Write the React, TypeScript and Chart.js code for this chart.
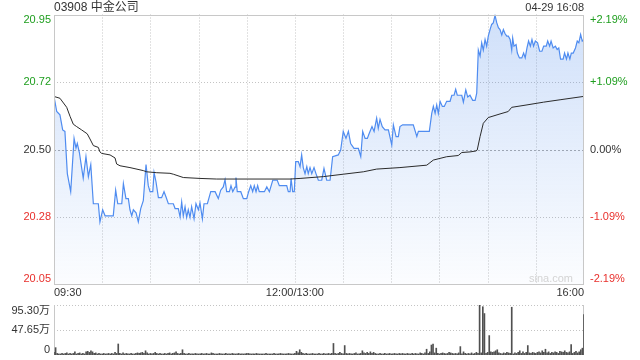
import React, { useEffect, useRef } from 'react';
import { Chart, registerables } from 'chart.js';

Chart.register(...registerables);

const title = '03908 中金公司';
const stamp = '04-29 16:08';
const watermark = 'sina.com';
const prevClose = 20.5;
const priceTicks = [20.052, 20.276, 20.5, 20.724, 20.948];
const timeTicks = [0, 30, 60, 90, 120, 150, 180, 210, 240, 270, 300, 330];
const timeLabels = ['09:30', '12:00/13:00', '16:00'];
const timeLabelMinutes = [0, 150, 330];
const volumeTicks = [0, 47.65, 95.3];
const volumeTickLabels = ['0', '47.65万', '95.30万'];

const priceMinutes = [
  0, 1.7, 3.7, 5.4, 6.8, 8.3, 10.4, 12.5, 13.7, 14.5, 15.8, 17.2, 18.2, 19.9, 21.4, 22.9, 24.5, 27.6, 28.6, 30.3,
  31.8, 36.9, 38.4, 39.7, 42.2, 43.2, 44.8, 46.3, 47.3, 48.4, 49.4, 51.1, 52.5, 54, 55.6, 57.3, 58.7, 59.8, 61.5, 62.3,
  63.5, 65, 67, 68.5, 69.7, 71.2, 74.3, 75.4, 77.4, 78.5, 79.5, 80.5, 81.6, 82.6, 83.6, 84.7, 85.7, 87.2, 88.4, 89.9,
  90.9, 92.4, 93.4, 95.5, 97.6, 100.3, 102.3, 103.8, 105.4, 106.5, 107.5, 109.2, 110.2, 111.3, 112.7, 113.3, 114.1, 116.3, 117.9, 120,
  121.2, 122.5, 123.7, 124.7, 125.8, 126.8, 127.8, 131, 132.5, 134.1, 136.2, 139, 140.3, 144.9, 145.9, 147, 147.6, 148.6, 149.6, 150.5,
  152.1, 153.2, 154.2, 155.2, 156.3, 157.4, 158.3, 159.4, 160.5, 161.9, 163.1, 164.6, 166.7, 168.1, 169.8, 171.9, 173.5, 177, 178.5, 180.1,
  181.8, 183.3, 184.7, 186.8, 189.5, 191, 192.2, 193.7, 195.1, 196.3, 198, 199.3, 200.9, 201.9, 203, 204.4, 206.1, 208.2, 210.3, 211.3,
  213, 214.4, 215.4, 217.1, 223.7, 225.9, 226.9, 233.7, 235.2, 236.2, 237.3, 238.3, 239.3, 240.4, 241.8, 243, 244.5, 246.6, 247.7, 249.1,
  250.1, 251.1, 253.9, 254.9, 256.4, 257.6, 259, 260.7, 262.2, 263.2, 264.2, 265.3, 266.3, 267.3, 268.4, 269.4, 270.4, 271.5, 272.5, 273.5,
  274.6, 275.7, 276.7, 277.7, 278.8, 279.8, 280.8, 281.9, 282.9, 284, 285, 285.6, 286.4, 287.7, 288.5, 289.8, 291.3, 292.4, 293.4, 294.5,
  295.5, 296.6, 297.6, 298.6, 299.7, 301.1, 302.4, 303.8, 304.9, 306.5, 307.4, 308.6, 309.5, 310.8, 312.2, 313.3, 314.3, 315.4, 317, 317.9,
  319.1, 320, 321.2, 322.1, 323.3, 324.7, 325.8, 326.8, 327.9, 328.9, 329.9,
];

const prices = [
  20.676, 20.626, 20.615, 20.565, 20.56, 20.42, 20.36, 20.537, 20.505, 20.52, 20.49, 20.44, 20.405, 20.476, 20.41, 20.45, 20.32, 20.32, 20.26, 20.3,
  20.28, 20.28, 20.365, 20.32, 20.32, 20.387, 20.337, 20.337, 20.3, 20.28, 20.3, 20.29, 20.26, 20.304, 20.33, 20.45, 20.38, 20.36, 20.36, 20.424,
  20.393, 20.34, 20.34, 20.36, 20.343, 20.32, 20.32, 20.304, 20.304, 20.276, 20.326, 20.28, 20.31, 20.275, 20.3, 20.275, 20.31, 20.27, 20.32, 20.3,
  20.323, 20.27, 20.32, 20.32, 20.36, 20.36, 20.337, 20.365, 20.376, 20.4, 20.36, 20.36, 20.38, 20.36, 20.375, 20.407, 20.36, 20.36, 20.337, 20.337,
  20.36, 20.38, 20.36, 20.38, 20.36, 20.38, 20.36, 20.36, 20.376, 20.36, 20.398, 20.398, 20.38, 20.38, 20.36, 20.36, 20.404, 20.36, 20.36, 20.46,
  20.46, 20.443, 20.482, 20.44, 20.42, 20.443, 20.42, 20.44, 20.42, 20.44, 20.42, 20.398, 20.398, 20.437, 20.398, 20.398, 20.476, 20.482, 20.498, 20.56,
  20.537, 20.56, 20.52, 20.504, 20.504, 20.476, 20.56, 20.537, 20.537, 20.554, 20.576, 20.56, 20.604, 20.57, 20.6, 20.576, 20.565, 20.565, 20.515, 20.582,
  20.543, 20.543, 20.576, 20.582, 20.582, 20.543, 20.56, 20.56, 20.62, 20.643, 20.62, 20.648, 20.62, 20.66, 20.643, 20.643, 20.66, 20.66, 20.68, 20.68,
  20.7, 20.68, 20.68, 20.657, 20.698, 20.674, 20.68, 20.663, 20.663, 20.687, 20.83, 20.81, 20.854, 20.83, 20.865, 20.843, 20.876, 20.898, 20.915, 20.92,
  20.945, 20.92, 20.904, 20.898, 20.88, 20.898, 20.885, 20.876, 20.876, 20.865, 20.83, 20.87, 20.843, 20.848, 20.82, 20.804, 20.804, 20.82, 20.804, 20.837,
  20.86, 20.843, 20.865, 20.843, 20.86, 20.854, 20.826, 20.826, 20.843, 20.843, 20.86, 20.843, 20.86, 20.837, 20.843, 20.832, 20.837, 20.8, 20.8, 20.82,
  20.8, 20.82, 20.8, 20.82, 20.82, 20.837, 20.86, 20.854, 20.882, 20.86, 20.865,
];

const avgMinutes = [
  0, 3.7, 7.9, 10, 12, 14.1, 17.2, 20.7, 22.4, 24.5, 27.6, 28.6, 29.7, 34.9, 38, 39, 41.1, 47.3, 55.6, 57.7,
  64, 72.2, 74.3, 80.5, 90.9, 101.3, 147, 153.2, 167.7, 180.1, 192.6, 200.9, 215.4, 232.1, 236.2, 244.5, 251.7, 253.9, 259, 262.7,
  263.5, 265.3, 267.3, 270.4, 277.7, 282.8, 285, 294.5, 304.7, 315.1, 329.6,
];

const avgPrices = [
  20.676, 20.67, 20.64, 20.61, 20.584, 20.576, 20.565, 20.552, 20.535, 20.513, 20.507, 20.492, 20.487, 20.482, 20.472, 20.452, 20.446, 20.44, 20.43, 20.426,
  20.423, 20.421, 20.418, 20.407, 20.404, 20.402, 20.402, 20.404, 20.41, 20.418, 20.426, 20.435, 20.44, 20.448, 20.465, 20.476, 20.48, 20.49, 20.492, 20.495,
  20.498, 20.543, 20.587, 20.606, 20.618, 20.626, 20.64, 20.648, 20.657, 20.665, 20.676,
];

// volume per minute, in 万 shares (minute 0 = 09:30 ... minute 330 = 16:00 close)
const volumes = [
  5, 14, 3, 2, 2, 3, 2, 3, 4, 2,
  3, 2, 3, 6, 2, 3, 4, 2, 3, 2,
  6, 7, 5, 8, 6, 3, 4, 2, 3, 2,
  2, 3, 2, 2, 3, 2, 3, 2, 5, 3,
  21, 3, 2, 4, 2, 3, 2, 2, 3, 2,
  2, 3, 4, 3, 4, 5, 3, 8, 4, 2,
  3, 2, 3, 5, 3, 2, 3, 2, 2, 3,
  2, 3, 4, 2, 3, 4, 6, 3, 2, 3,
  10, 3, 2, 2, 3, 2, 2, 2, 3, 2,
  2, 2, 3, 2, 2, 3, 2, 2, 4, 3,
  2, 2, 2, 3, 2, 2, 2, 3, 2, 2,
  2, 3, 2, 2, 2, 3, 2, 2, 2, 2,
  3, 3, 2, 2, 2, 2, 3, 2, 2, 2,
  2, 2, 3, 2, 2, 2, 2, 3, 2, 2,
  2, 3, 2, 2, 2, 2, 3, 2, 2, 2,
  3, 7, 4, 10, 5, 3, 2, 3, 2, 2,
  2, 3, 2, 2, 2, 3, 2, 2, 3, 2,
  2, 3, 2, 3, 22, 3, 2, 3, 5, 3,
  2, 18, 3, 2, 3, 2, 2, 3, 4, 2,
  2, 3, 8, 4, 3, 5, 3, 6, 3, 5,
  3, 2, 2, 3, 2, 2, 3, 2, 2, 3,
  2, 2, 3, 2, 2, 3, 2, 3, 2, 2,
  3, 2, 2, 3, 2, 3, 2, 2, 4, 3,
  2, 4, 11, 3, 6, 19, 21, 4, 13, 3,
  2, 3, 4, 3, 2, 3, 5, 4, 3, 2,
  3, 2, 4, 16, 2, 6, 3, 2, 3, 2,
  4, 2, 3, 5, 3, 96, 4, 92, 79, 3,
  5, 37, 6, 5, 6, 8, 10, 4, 3, 2,
  4, 3, 5, 4, 3, 91, 2, 4, 3, 5,
  8, 3, 6, 3, 5, 18, 4, 3, 5, 4,
  3, 5, 6, 4, 8, 5, 11, 4, 6, 3,
  5, 4, 6, 5, 3, 7, 6, 5, 8, 5,
  4, 6, 20, 3, 5, 7, 4, 6, 10, 13,
  77,
];

const GREEN = '#1e9e1e';
const RED = '#e8302c';
const DARK = '#333333';
const BLUE = '#4f8cf0';
const GRID = '#c4c4c4';
const BORDER = '#c8c8c8';
const FONT = 'Arial, "Liberation Sans", "Noto Sans CJK SC", sans-serif';

function colorFor(v: number) {
  if (v > prevClose + 1e-9) return GREEN;
  if (v < prevClose - 1e-9) return RED;
  return DARK;
}

function pctText(v: number) {
  const p = ((v - prevClose) / prevClose) * 100;
  const s = Math.abs(p).toFixed(2) + '%';
  if (Math.abs(p) < 0.005) return '0.00%';
  return (p > 0 ? '+' : '-') + s;
}

const mainDecor = {
  id: 'mainDecor',
  beforeDatasetsDraw(chart: any) {
    const { ctx, chartArea: a, scales } = chart;
    const x = scales.x;
    const y = scales.y;
    ctx.save();
    ctx.lineWidth = 1;
    ctx.strokeStyle = GRID;
    ctx.setLineDash([1, 2]);
    timeTicks.forEach((t) => {
      if (t === timeTicks[0] || t === timeTicks[timeTicks.length - 1]) return;
      const px = Math.round(x.getPixelForValue(t)) + 0.5;
      ctx.beginPath();
      ctx.moveTo(px, a.top);
      ctx.lineTo(px, a.bottom);
      ctx.stroke();
    });
    priceTicks.forEach((v, i) => {
      if (i === 0 || i === priceTicks.length - 1) return;
      const py = Math.round(y.getPixelForValue(v)) + 0.5;
      ctx.beginPath();
      if (Math.abs(v - prevClose) < 1e-9) {
        ctx.strokeStyle = '#aaaaaa';
        ctx.setLineDash([2, 2]);
      } else {
        ctx.strokeStyle = GRID;
        ctx.setLineDash([1, 2]);
      }
      ctx.moveTo(a.left, py);
      ctx.lineTo(a.right, py);
      ctx.stroke();
    });
    ctx.restore();
  },
  afterDraw(chart: any) {
    const { ctx, chartArea: a, scales } = chart;
    const x = scales.x;
    const y = scales.y;
    ctx.save();
    ctx.lineWidth = 1;
    ctx.strokeStyle = BORDER;
    ctx.setLineDash([]);
    ctx.strokeRect(Math.round(a.left) + 0.5, Math.round(a.top) + 0.5, Math.round(a.right - a.left) - 1, Math.round(a.bottom - a.top) - 1);

    ctx.font = '11px ' + FONT;
    priceTicks.forEach((v, i) => {
      const py = y.getPixelForValue(v);
      ctx.textBaseline = i === 0 ? 'bottom' : i === priceTicks.length - 1 ? 'top' : 'middle';
      ctx.fillStyle = colorFor(v);
      ctx.textAlign = 'right';
      ctx.fillText(v.toFixed(2), a.left - 3, py);
      ctx.textAlign = 'left';
      ctx.fillText(pctText(v), a.right + 6, py);
    });

    ctx.fillStyle = DARK;
    ctx.textBaseline = 'middle';
    timeLabels.forEach((lab, i) => {
      const px = x.getPixelForValue(timeLabelMinutes[i]);
      ctx.textAlign = i === 0 ? 'left' : i === timeLabels.length - 1 ? 'right' : 'center';
      ctx.fillText(lab, px, a.bottom + 8.5);
    });

    ctx.fillStyle = '#d4d4d4';
    ctx.textAlign = 'right';
    ctx.fillText(watermark, a.right - 11, a.bottom - 6);

    ctx.fillStyle = DARK;
    ctx.font = '12px ' + FONT;
    ctx.textAlign = 'left';
    ctx.fillText(title, a.left, 7.5);
    ctx.font = '11px ' + FONT;
    ctx.textAlign = 'right';
    ctx.fillText(stamp, a.right, 8);
    ctx.restore();
  },
};

const volDecor = {
  id: 'volDecor',
  beforeDatasetsDraw(chart: any) {
    const { ctx, chartArea: a, scales } = chart;
    const y = scales.y;
    ctx.save();
    ctx.lineWidth = 1;
    ctx.strokeStyle = GRID;
    ctx.setLineDash([1, 2]);
    volumeTicks.forEach((v) => {
      if (v === 0) return;
      const py = Math.round(y.getPixelForValue(v)) + 0.5;
      ctx.beginPath();
      ctx.moveTo(a.left, py);
      ctx.lineTo(a.right, py);
      ctx.stroke();
    });
    ctx.setLineDash([]);
    ctx.strokeStyle = BORDER;
    ctx.beginPath();
    ctx.moveTo(Math.round(a.left) + 0.5, a.top);
    ctx.lineTo(Math.round(a.left) + 0.5, a.bottom);
    ctx.moveTo(Math.round(a.right) - 0.5, a.top);
    ctx.lineTo(Math.round(a.right) - 0.5, a.bottom);
    ctx.stroke();
    ctx.restore();
  },
  afterDraw(chart: any) {
    const { ctx, chartArea: a, scales } = chart;
    const y = scales.y;
    ctx.save();
    ctx.font = '11px ' + FONT;
    ctx.fillStyle = DARK;
    ctx.textAlign = 'right';
    volumeTicks.forEach((v, i) => {
      const py = y.getPixelForValue(v);
      ctx.textBaseline = i === 0 ? 'bottom' : i === volumeTicks.length - 1 ? 'top' : 'middle';
      ctx.fillText(volumeTickLabels[i], a.left - 4, py);
    });
    ctx.restore();
  },
};

export default function App() {
  const mainRef = useRef<HTMLCanvasElement | null>(null);
  const volRef = useRef<HTMLCanvasElement | null>(null);

  useEffect(() => {
    if (!mainRef.current || !volRef.current) return;

    const fillGradient = (c: any) => {
      const chart = c.chart;
      const a = chart.chartArea;
      if (!a) return 'rgba(80,140,235,0.12)';
      const g = chart.ctx.createLinearGradient(0, a.top, 0, a.bottom);
      g.addColorStop(0, 'rgba(80,140,235,0.27)');
      g.addColorStop(1, 'rgba(80,140,235,0.02)');
      return g;
    };

    const main = new Chart(mainRef.current, {
      type: 'line',
      data: {
        datasets: [
          {
            data: avgMinutes.map((t, i) => ({ x: t, y: avgPrices[i] })),
            borderColor: '#2b2b2b',
            borderWidth: 1,
            pointRadius: 0,
            fill: false,
            tension: 0,
          },
          {
            data: priceMinutes.map((t, i) => ({ x: t, y: prices[i] })),
            borderColor: BLUE,
            borderWidth: 1.2,
            pointRadius: 0,
            fill: 'start',
            backgroundColor: fillGradient,
            tension: 0,
          },
        ],
      },
      options: {
        animation: false,
        responsive: false,
        events: [],
        layout: { padding: { left: 54, right: 56, top: 14.5, bottom: 15.5 } },
        plugins: { legend: { display: false }, tooltip: { enabled: false } },
        scales: {
          x: { type: 'linear', min: 0, max: 330, display: false },
          y: { type: 'linear', min: priceTicks[0], max: priceTicks[priceTicks.length - 1], display: false },
        },
      },
      plugins: [mainDecor],
    } as any);

    const vol = new Chart(volRef.current, {
      type: 'bar',
      data: {
        datasets: [
          {
            data: volumes.map((v, i) => ({ x: i, y: v })),
            backgroundColor: '#505050',
            barThickness: 1,
            borderWidth: 0,
          },
        ],
      },
      options: {
        animation: false,
        responsive: false,
        events: [],
        layout: { padding: { left: 54, right: 56, top: 5, bottom: 5 } },
        plugins: { legend: { display: false }, tooltip: { enabled: false } },
        scales: {
          x: { type: 'linear', min: 0, max: 330, display: false, offset: false },
          y: { type: 'linear', min: 0, max: volumeTicks[volumeTicks.length - 1], display: false },
        },
      },
      plugins: [volDecor],
    } as any);

    return () => {
      main.destroy();
      vol.destroy();
    };
  }, []);

  return (
    <div style={{ position: 'fixed', left: 0, top: 0, width: 640, height: 360, background: '#fff' }}>
      <canvas ref={mainRef} width={640} height={300} style={{ position: 'absolute', left: 0, top: 0, width: 640, height: 300 }} />
      <canvas ref={volRef} width={640} height={60} style={{ position: 'absolute', left: 0, top: 300, width: 640, height: 60 }} />
    </div>
  );
}
